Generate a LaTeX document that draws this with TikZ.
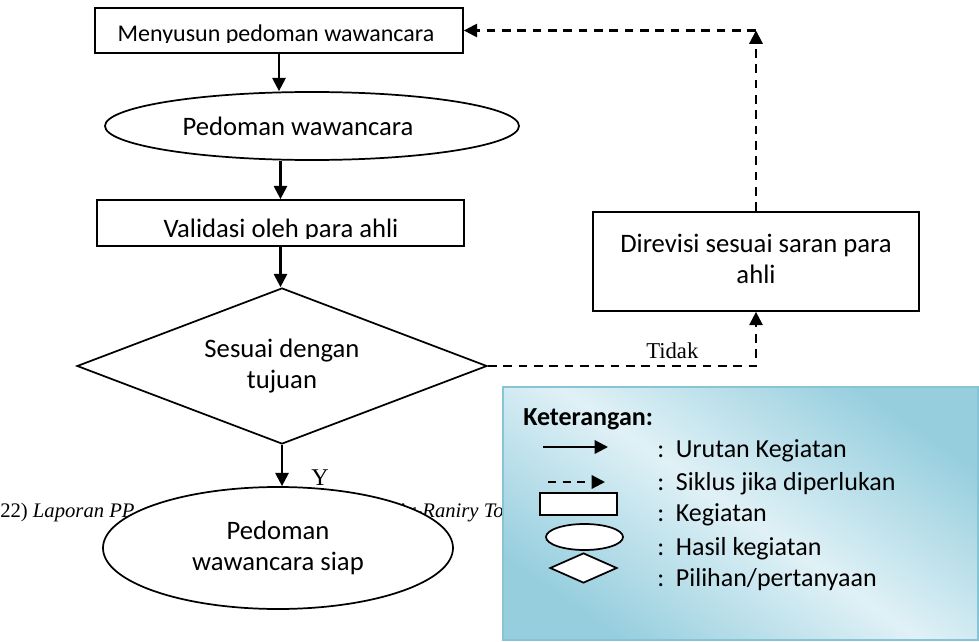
\documentclass[tikz,border=0pt]{standalone}
\usepackage{fontspec}
\setmainfont{Carlito}
\newfontfamily\fontserif{Liberation Serif}
\usetikzlibrary{shapes.geometric,arrows.meta}
\definecolor{biru}{RGB}{150,206,222}
\definecolor{birumuda}{RGB}{224,241,246}
\definecolor{tepibiru}{RGB}{135,196,214}
\tikzset{
	kotak/.style={draw,line width=1.3pt,fill=white,inner sep=0pt},
	hasil/.style={draw,ellipse,line width=1.3pt,fill=white,inner sep=0pt,align=center},
	pilih/.style={draw,diamond,line width=1.3pt,fill=white,inner sep=0pt,aspect=2.6,align=center},
	alur/.style={line width=1.7pt,-{Triangle[width=10pt,length=10pt]}},
	siklus/.style={line width=1.7pt,dash pattern=on 6.5pt off 5pt,-{Triangle[width=10pt,length=10pt]}},
	isi/.style={font=\fontsize{20pt}{23.5pt}\selectfont},
	ket/.style={anchor=base west,inner sep=0pt,font=\fontsize{19.5pt}{23pt}\selectfont}
}
\begin{document}
\begin{tikzpicture}[x=0.75pt,y=-0.75pt]
			\useasboundingbox (0,0) rectangle (979,642);
			\node[anchor=base west,inner sep=0pt,font=\fontserif\fontsize{15.5pt}{18pt}\selectfont] (kaki1) at (0,517) {22) \textit{Laporan PP}};
			\node[anchor=base west,inner sep=0pt,font=\fontserif\fontsize{15.5pt}{18pt}\selectfont] (kaki2) at (395,517) {\textit{Ar-Raniry To}};
			\node[kotak,minimum width=276pt,minimum height=33.75pt] (susun) at (279,30.5) {};
			\begin{scope}
				\clip (susun.north west) rectangle (463,43);
				\node[anchor=base,inner sep=0pt,font=\fontsize{18pt}{22pt}\selectfont] (susunteks) at (276,42) {Menyusun pedoman wawancara};
			\end{scope}
			\node[hasil,isi,minimum width=310.5pt,minimum height=51pt] (pedoman) at (312,126) {Pedoman wawancara\hspace*{21pt}};
			\node[kotak,minimum width=275.25pt,minimum height=34.5pt] (validasi) at (280.5,223) {};
			\begin{scope}
				\clip (validasi.north west) rectangle (464,238.5);
				\node[isi,anchor=base,inner sep=0pt] (validasiteks) at (281,237.5) {Validasi oleh para ahli};
			\end{scope}
			\node[pilih,isi,minimum width=307.5pt,minimum height=117pt] (sesuai) at (282,366) {Sesuai dengan\\tujuan};
			\node[hasil,isi,minimum width=262.5pt,minimum height=91.5pt] (siap) at (278,548) {Pedoman\\wawancara siap};
			\node[kotak,isi,align=center,minimum width=244.5pt,minimum height=74.25pt] (revisi) at (756,261.5) {Direvisi sesuai saran para\\ahli\vspace*{4pt}};
			\coordinate (sudut) at (revisi.north |- susun.east);
			\draw[alur] (susun.south) -- (susun.south |- pedoman.north);
			\draw[alur] (pedoman.south -| validasi.north) -- (validasi.north);
			\draw[alur] (validasi.south) -- (validasi.south |- sesuai.north);
			\draw[alur] (sesuai.south) -- (siap.north -| sesuai.south);
			\node[font=\fontserif\fontsize{18pt}{20pt}\selectfont,inner sep=0pt] (ya) at (320,478) {Y};
			\draw[siklus] (sesuai.east) -| (revisi.south) node[pos=0.344,above=1pt,font=\fontserif\fontsize{17pt}{20pt}\selectfont] (tidak) {Tidak};
			\draw[siklus] (revisi.north) -- (sudut);
			\draw[siklus] (sudut) -- (susun.east);
			\node[draw=tepibiru,line width=1pt,top color=biru,bottom color=biru,middle color=birumuda,shading angle=-35,minimum width=356.25pt,minimum height=189.75pt,inner sep=0pt] (legenda) at (740.5,513.5) {};
			\node[anchor=base west,inner sep=0pt,font=\bfseries\fontsize{19.5pt}{23pt}\selectfont] (judul) at (523,425) {Keterangan:};
			\coordinate (a1) at (543,447);
			\coordinate (a2) at (608,447);
			\coordinate (b1) at (548,482);
			\coordinate (b2) at (605,482);
			\draw[alur] (a1) -- (a2);
			\draw[siklus,dash pattern=on 6pt off 5pt] (b1) -- (b2);
			\node[kotak,minimum width=57.75pt,minimum height=16.5pt] (simkotak) at (578.5,504) {};
			\node[hasil,minimum width=57.75pt,minimum height=19.5pt] (simhasil) at (584.5,537) {};
			\node[pilih,minimum width=50.25pt,minimum height=22.5pt] (simpilih) at (583.5,568) {};
			\node[ket] (k1) at (657,457) {:\hspace{0.45em}Urutan Kegiatan};
			\node[ket] (k2) at (657,490) {:\hspace{0.45em}Siklus jika diperlukan};
			\node[ket] (k3) at (657,521) {:\hspace{0.45em}Kegiatan};
			\node[ket] (k4) at (657,555) {:\hspace{0.45em}Hasil kegiatan};
			\node[ket] (k5) at (657,586) {:\hspace{0.45em}Pilihan/pertanyaan};
\end{tikzpicture}
\end{document}
